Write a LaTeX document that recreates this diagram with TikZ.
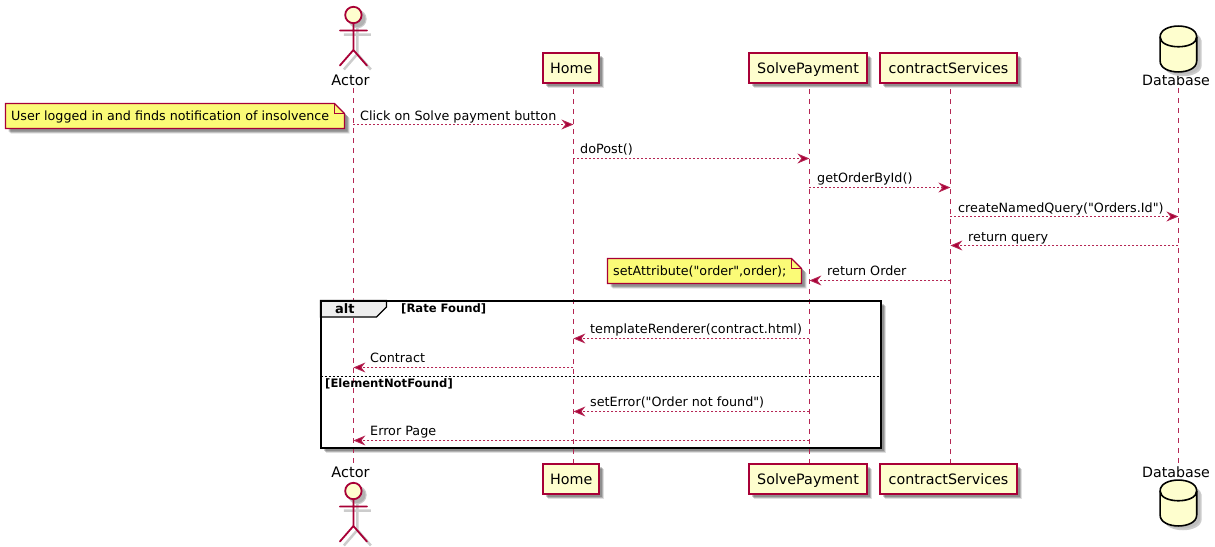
\documentclass[tikz,border=0pt]{standalone}
\usepackage{fontspec}
\setmainfont[Ligatures=TeXOff]{DejaVu Sans}
\usetikzlibrary{arrows.meta,shadows,calc,shapes.geometric}
\definecolor{pline}{HTML}{A80036}
\definecolor{pfill}{HTML}{FEFECE}
\definecolor{nfill}{HTML}{FBFB77}
\definecolor{tabfill}{HTML}{EEEEEE}
\colorlet{thinline}{pline!85!white}
\tikzset{
  softshadow/.style={
    general shadow={shadow xshift=5pt,shadow yshift=-5pt,fill=black,opacity=.12,draw=none},
    general shadow={shadow xshift=4pt,shadow yshift=-4pt,fill=black,opacity=.2,draw=none},
    general shadow={shadow xshift=3pt,shadow yshift=-3pt,fill=black,opacity=.2,draw=none}},
  partbox/.style={draw=pline,fill=pfill,line width=1.8pt,minimum height=30pt,inner sep=0pt,text height=12pt,text depth=2pt,font=\fontsize{14.3}{16}\selectfont,softshadow},
  lifeline/.style={draw=thinline,line width=1pt,dash pattern=on 5pt off 5pt,dash phase=5pt},
  msgline/.style={draw=thinline,line width=.9pt,dash pattern=on 2pt off 2pt,-{Stealth[length=12pt,width=10pt,inset=4pt,fill=pline]}},
  msglabel/.style={anchor=base west,inner sep=0pt,font=\fontsize{12.75}{15}\selectfont,text=black},
  notetext/.style={anchor=base west,inner sep=0pt,font=\fontsize{12.7}{15}\selectfont},
  actorname/.style={inner sep=0pt,anchor=base,font=\fontsize{14.5}{16}\selectfont},
  dbname/.style={inner sep=0pt,anchor=base,font=\fontsize{14.2}{16}\selectfont},
  actorline/.style={draw=pline,line width=1.8pt,line cap=round},
  dbshape/.style={draw=black,fill=pfill,line width=1.6pt},
  noteshape/.style={draw=pline,fill=nfill,line width=1.2pt},
  framebold/.style={inner sep=0pt,anchor=base west,font=\bfseries\fontsize{11.6}{13}\selectfont},
}
\newcommand{\drawactor}[2]{%
  \begin{scope}[shift={(#1,#2)}]
    \begin{scope}[shift={(4,-4)}]
      \draw[black!20,line width=2.5pt] (0,-8) circle (8) (0,-16) -- (0,-43) (-13.5,-23.5) -- (13.5,-23.5) (0,-43) -- (-13.5,-58.5) (0,-43) -- (13.5,-58.5);
      \fill[black!30] (0,-8) circle (8);
    \end{scope}
    \draw[actorline,fill=pfill] (0,-8) circle (8.2);
    \draw[actorline] (0,-16.2) -- (0,-43) (-13.5,-23.5) -- (13.5,-23.5) (0,-43) -- (-13.5,-58.5) (0,-43) -- (13.5,-58.5);
  \end{scope}}
\newcommand{\drawdb}[2]{%
  \begin{scope}[shift={(#1,#2)}]
    \fill[black!20] (-14.3,-15) -- (-14.3,-39) .. controls (-14.3,-54) and (23.3,-54) .. (23.3,-39) -- (23.3,-15) .. controls (23.3,-3) and (-14.3,-3) .. cycle;
    \fill[black!25] (-15.3,-14) -- (-15.3,-38) .. controls (-15.3,-52) and (21.8,-52) .. (21.8,-38) -- (21.8,-14) .. controls (21.8,-2) and (-15.3,-2) .. cycle;
    \path[dbshape] (-18.3,-11) .. controls (-18.3,3.6) and (18.3,3.6) .. (18.3,-11) -- (18.3,-35) .. controls (18.3,-49.6) and (-18.3,-49.6) .. (-18.3,-35) -- cycle;
    \draw[dbshape,fill=none] (-18.3,-11) .. controls (-18.3,-24) and (18.3,-24) .. (18.3,-11);
  \end{scope}}
\newcommand{\drawnote}[4]{%
  \draw[noteshape,softshadow] (#1,#2) -- (#3-10,#2) -- (#3,#2-10) -- (#3,#4) -- (#1,#4) -- cycle;
  \draw[noteshape,fill=none] (#3-10,#2) -- (#3-10,#2-10) -- (#3,#2-10);}
\newcommand{\msg}[3]{\draw[msgline] (#1 |- 0,-#3) -- (#2 |- 0,-#3);}
\begin{document}
\begin{tikzpicture}[x=1pt,y=1pt]
\useasboundingbox (0,0) rectangle (1215,-546);
% frame
\draw[black,line width=2pt,fill=white,softshadow] (320.5,-300.5) rectangle (880.5,-447.5);
% participants
\node[actorname] (actorT) at (350.5,-85) {Actor};
\node[actorname] (actorB) at (350.5,-477.5) {Actor};
\node[partbox,minimum width=56pt] (homeT) at (571.3,-68.3) {Home};
\node[partbox,minimum width=56pt] (homeB) at (571.3,-479.3) {Home};
\node[partbox,minimum width=117.4pt] (payT) at (808,-68.3) {SolvePayment};
\node[partbox,minimum width=117.4pt] (payB) at (808,-479.3) {SolvePayment};
\node[partbox,minimum width=136.4pt] (conT) at (948.5,-68.3) {contractServices};
\node[partbox,minimum width=136.4pt] (conB) at (948.5,-479.3) {contractServices};
\node[dbname] (dbT) at (1176,-85) {Database};
\node[dbname] (dbB) at (1176,-477.5) {Database};
\coordinate (actorL) at (353.4,-83);
\coordinate (actorE) at (353.4,-464);
\coordinate (homeL) at (573.4,-83);
\coordinate (payL) at (809.4,-83);
\coordinate (conL) at (950.4,-83);
\coordinate (dbL) at (1178.4,-83);
\coordinate (dbE) at (1178.4,-464);
% lifelines
\draw[lifeline] (actorL) -- (actorE);
\draw[lifeline] (homeL |- homeT.south) -- (homeL |- homeB.north);
\draw[lifeline] (payL |- payT.south) -- (payL |- payB.north);
\draw[lifeline] (conL |- conT.south) -- (conL |- conB.north);
\draw[lifeline] (dbL) -- (dbE);
% actors & database
\drawactor{353.4}{-7}
\drawactor{353.4}{-483}
\drawdb{1178.4}{-26}
\drawdb{1178.4}{-480}
% notes
\drawnote{5.5}{-103.5}{344.5}{-128.5}
\node[notetext] (n1) at (11,-120) {User logged in and finds notification of insolvence};
\drawnote{607.5}{-258.5}{801.5}{-283.5}
\node[notetext] (n2) at (613,-275) {setAttribute("order",order);};
% frame tab
\draw[black,line width=1.2pt,fill=tabfill] (320.5,-300.5) -- (386.5,-300.5) -- (386.5,-307) -- (376.5,-317) -- (320.5,-317) -- cycle;
\draw[black,line width=2pt] (320.5,-300.5) rectangle (880.5,-447.5);
\node[inner sep=0pt,anchor=base west,font=\bfseries\fontsize{13}{15}\selectfont] (altlabel) at (335,-313) {alt};
\node[framebold] (g1) at (401,-312) {[Rate Found]};
\draw[black,line width=.8pt,dash pattern=on 2pt off 2pt] (320.5,-376.5) -- (880.5,-376.5);
\node[framebold] (g2) at (325,-387) {[ElementNotFound]};
% messages
\msg{actorL}{homeL}{124.5}
\node[msglabel] (l1) at (360,-120) {Click on Solve payment button};
\msg{homeL}{payL}{158.5}
\node[msglabel] (l2) at (580,-153) {doPost()};
\msg{payL}{conL}{187.5}
\node[msglabel] (l3) at (817,-182) {getOrderById()};
\msg{conL}{dbL}{216.5}
\node[msglabel] (l4) at (958,-212) {createNamedQuery("Orders.Id")};
\msg{dbL}{conL}{245.5}
\node[msglabel] (l5) at (968,-241) {return query};
\msg{conL}{payL}{280.5}
\node[msglabel] (l6) at (827,-275) {return Order};
\msg{payL}{homeL}{338.5}
\node[msglabel] (l7) at (590,-333) {templateRenderer(contract.html)};
\msg{homeL}{actorL}{367.5}
\node[msglabel] (l8) at (370,-362) {Contract};
\msg{payL}{homeL}{411.5}
\node[msglabel] (l9) at (590,-406) {setError("Order not found")};
\msg{payL}{actorL}{440.5}
\node[msglabel] (l10) at (370,-435) {Error Page};
\end{tikzpicture}
\end{document}
